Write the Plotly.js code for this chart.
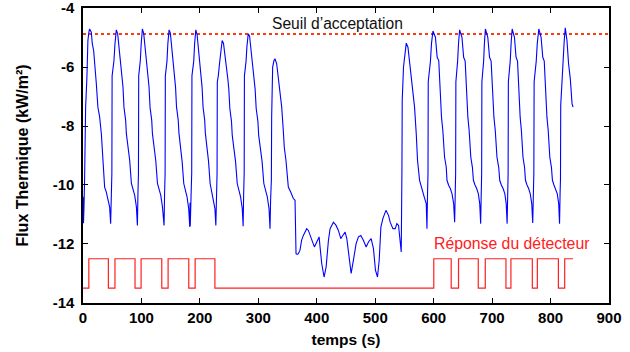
<!DOCTYPE html>
<html>
<head>
<meta charset="utf-8">
<script src="https://cdn.plot.ly/plotly-3.0.1.min.js"></script>
<style>html,body{margin:0;padding:0;background:#fff;}#chart{width:630px;height:352px;}</style>
</head>
<body>
<div id="chart"></div>
<script>
// Thermal flux signal (time in s, flux in kW/m²)
const flux_t = [
 0, 0.8, 1.5, 2.7, 4.5, 6.7, 8.4, 10.1, 11.3, 14.2, 15.9, 18.2, 19.9, 22.8, 25.5, 28.5, 31.4, 34.1, 37, 39.9, 42.7, 45.6, 47.3,
 48.3, 49.4, 49.8, 51.3, 53, 54.7, 55.9, 57, 59.3, 61, 63.9, 66.7, 68.4, 70.1, 73, 74.2, 77, 79.9, 82.8, 85.5, 88.5, 91.4, 93.1,
 94, 94.9, 95.3, 96.6, 98.1, 99.6, 100.6, 101.6, 103.9, 105.6, 108.5, 111.3, 113, 114.7, 117.6, 118.8, 121.6, 124.5, 127.4, 130.1, 133.1, 136, 138.7,
 139.6, 140.5, 140.9, 142.2, 143.7, 145.2, 146.2, 147.3, 149.5, 151.2, 154, 156.8, 158.4, 160, 162.9, 164.2, 166.8, 169.6, 172.4, 175, 178, 180.8, 182.7, 183.1, 183.5,
 185, 186, 186.4, 187.8, 189.5, 191, 192, 193, 195.2, 196.8, 199.5, 202.2, 203.8, 205.4, 208.2, 209.4, 212, 214.8, 217.5, 220, 222.9, 225.7, 227.3,
 228.3, 229.4, 229.8, 231.5, 233.5, 235.3, 236.8, 238.1, 240.4, 242.1, 245, 247.8, 249.5, 251.2, 254.1, 255.3, 258.1, 261, 263.9, 266.6, 269.6, 272.5, 274,
 274.9, 275.8, 276.2, 277.5, 279, 280.5, 281.6, 282.7, 285, 286.8, 289.8, 292.7, 294.5, 296.3, 299.3, 300.5, 303.4, 306.4, 309.4, 312.2, 315.3, 318.3, 320,
 321, 322.3, 322.8, 324.5, 326.8, 328.5, 331.4, 334.1, 337.1, 340, 342.7, 344.4, 347.3, 349.5, 351.3, 355.4, 359.9, 362.8, 364.5,
 366.5, 368.5, 371.3, 374, 377, 382.8, 385.6, 391.4, 395.9, 400, 404, 405.6, 408.5, 412.5, 416, 419.9, 422.8, 428.5, 433, 437, 441.1, 444.5, 448.5, 451.4,
 455.9, 458.8, 462.7, 467.3, 471.3, 475.4, 479.9, 484.5, 488.4, 493, 497, 500.4, 503.9, 506.8, 509.7, 513.1, 518.3, 522.7, 525.6, 530.3, 534.2, 537.1, 539.9, 542.8, 544.5,
 545.7, 546.2, 548.4, 551.3, 553.1, 556, 559.9, 563.9, 567.3, 570.2, 572.4, 575.9, 580, 583.9, 587.3, 588.5,
 589.5, 590.3, 590.7, 592.5, 594.5, 596.3, 597.5, 598.8, 603, 606, 608.7, 610.5, 613.4, 615.7, 618.6, 621.5, 622.8, 625.6, 628.5, 631.4, 634.2, 635.9,
 636.8, 637.6, 638, 639.5, 641, 642.5, 643.5, 644.4, 648.4, 651.3, 653.9, 655.7, 658.5, 660.7, 663.5, 666.3, 668, 670.7, 673.6, 676.5, 678.8, 680.4,
 681.3, 682.1, 682.5, 684, 685.5, 686.8, 687.7, 688.5, 692.6, 695.6, 698.3, 700.2, 703.1, 705.4, 708.3, 711.3, 713, 715.8, 718.8, 721.8, 724.1, 725.7,
 726.6, 727.4, 727.8, 729.4, 731, 732.5, 733.4, 734.3, 738.2, 741, 743.5, 745.2, 748, 750.1, 752.8, 755.5, 757.1, 759.7, 762.5, 765.3, 767.8, 769.5,
 770.5, 771.4, 771.9, 773.7, 775.5, 777.3, 778.6, 779.9, 783.8, 786.7, 789.2, 791, 793.8, 796, 798.7, 801.5, 803.2, 805.8, 808.6, 811.5, 813.9, 815.4,
 816.3, 817, 817.4, 818.8, 821, 823.4, 825.2, 828.1, 830.8, 832.6, 833.8, 836.8, 838.5
];
const flux_v = [
 -10.4, -11.3, -10.9, -9.84, -7.36, -6.34, -5.1, -4.82, -4.71, -4.82, -5.21, -5.44, -6.0, -6.57, -7.36, -7.7, -8.26, -9.17, -10.07, -10.24, -10.52, -10.75, -11.31,
 -10.3, -9.6, -6.3, -6.12, -5.78, -5.21, -4.99, -4.74, -4.87, -5.21, -5.67, -6.34, -6.68, -7.36, -7.81, -8.26, -8.72, -9.17, -9.95, -10.18, -10.35, -10.75, -11.37,
 -10.3, -9.6, -6.3, -6.12, -5.78, -5.21, -4.99, -4.71, -4.87, -5.21, -5.67, -6.34, -6.68, -7.36, -7.81, -8.26, -8.72, -9.17, -9.95, -10.18, -10.35, -10.75, -11.37,
 -10.3, -9.6, -6.3, -6.1, -5.8, -5.2, -5.0, -4.74, -4.85, -5.2, -5.7, -6.35, -6.7, -7.35, -7.8, -8.25, -8.7, -9.2, -9.95, -10.2, -10.4, -10.8, -11.42, -10.6, -11.4,
 -10.3, -9.6, -6.3, -6.1, -5.8, -5.2, -5.0, -4.74, -4.9, -5.2, -5.7, -6.35, -6.7, -7.35, -7.8, -8.25, -8.7, -9.2, -9.95, -10.2, -10.4, -10.8, -11.37,
 -10.3, -9.6, -6.5, -6.3, -5.9, -5.5, -5.4, -5.1, -5.2, -5.45, -5.85, -6.4, -6.75, -7.4, -7.85, -8.3, -8.75, -9.2, -9.95, -10.2, -10.4, -10.8, -11.4,
 -10.3, -9.6, -6.3, -6.1, -5.8, -5.3, -5.05, -4.87, -4.95, -5.3, -5.75, -6.4, -6.75, -7.4, -7.85, -8.3, -8.75, -9.2, -9.95, -10.2, -10.4, -10.8, -11.48,
 -10.5, -9.84, -7.7, -6.0, -5.78, -5.72, -5.89, -6.34, -7.02, -7.36, -8.15, -8.72, -9.17, -9.73, -10.07, -10.24, -10.46, -10.52, -12.33,
 -12.35, -12.33, -12.21, -11.88, -11.71, -11.48, -11.54, -11.82, -12.1, -11.93, -11.76, -12.1, -12.67, -13.12, -12.78, -11.88, -11.48, -11.26, -11.37, -11.54, -11.82, -11.71, -11.6, -11.82,
 -12.44, -13.0, -12.55, -11.99, -11.76, -11.71, -11.88, -12.1, -11.93, -11.82, -12.16, -12.89, -13.12, -12.55, -11.43, -11.14, -10.86, -11.03, -11.26, -11.48, -11.48, -11.31, -11.37, -11.82, -12.27,
 -9.5, -7.13, -6.0, -5.33, -5.19, -5.33, -6.0, -6.68, -7.36, -8.26, -9.17, -9.84, -10.18, -10.41, -10.63, -11.48,
 -10.3, -9.6, -6.5, -6.2, -5.8, -5.2, -4.95, -4.78, -4.99, -5.67, -5.78, -6.68, -7.7, -8.15, -9.05, -9.39, -9.84, -10.01, -10.12, -10.3, -10.63, -11.26,
 -10.3, -9.6, -6.5, -6.2, -5.8, -5.2, -4.95, -4.74, -4.99, -5.67, -5.8, -6.68, -7.7, -8.15, -9.05, -9.4, -9.84, -10.0, -10.12, -10.3, -10.63, -11.31,
 -10.3, -9.6, -6.5, -6.2, -5.8, -5.2, -4.95, -4.71, -4.99, -5.67, -5.8, -6.68, -7.7, -8.15, -9.05, -9.4, -9.84, -10.0, -10.12, -10.3, -10.63, -11.31,
 -10.3, -9.6, -6.5, -6.2, -5.8, -5.2, -4.95, -4.71, -4.99, -5.67, -5.8, -6.68, -7.7, -8.15, -9.05, -9.4, -9.84, -10.0, -10.12, -10.3, -10.63, -11.29,
 -10.3, -9.6, -6.5, -6.2, -5.8, -5.2, -4.95, -4.71, -4.99, -5.67, -5.8, -6.68, -7.7, -8.15, -9.05, -9.4, -9.84, -10.0, -10.12, -10.3, -10.63, -11.31,
 -10.3, -9.8, -7.3, -6.68, -6.0, -5.1, -4.67, -5.1, -5.89, -6.12, -6.4, -7.25, -7.36
];

// Detector response (step signal)
const det_t = [0, 10, 43.4, 54.7, 89, 99.4, 134.8, 145.6, 181, 191.9, 225.7, 600.2, 630, 642.5, 676.3, 688.3, 723.7, 732.2, 768.8, 777.4, 813.4, 824.2, 838.5];
const det_v = [-13.5, -12.5, -13.5, -12.5, -13.5, -12.5, -13.5, -12.5, -13.5, -12.5, -13.5, -12.5, -13.5, -12.5, -13.5, -12.5, -13.5, -12.5, -13.5, -12.5, -13.5, -12.5, -12.5];

// Acceptance threshold
const seuil_t = [0, 900];
const seuil_v = [-4.88, -4.88];

const xTicks = [0, 100, 200, 300, 400, 500, 600, 700, 800, 900];
const yTicks = [-14, -12, -10, -8, -6, -4];

const labelSeuil = "Seuil d\u2019acceptation";
const labelDet = "Réponse du détecteur";
const xTitle = "temps (s)";
const yTitle = "Flux Thermique (kW/m²)";

const FONT = "Liberation Sans, Arial, sans-serif";

const traces = [
  {x: seuil_t, y: seuil_v, mode: 'lines', line: {color: '#ff3a10', width: 2.2, dash: 'dot'}, hoverinfo: 'skip'},
  {x: det_t, y: det_v, mode: 'lines', line: {color: '#ff2020', width: 1.2, shape: 'hv'}},
  {x: flux_t, y: flux_v, mode: 'lines', line: {color: '#0000ff', width: 1.1}}
];

const layout = {
  width: 630, height: 352,
  margin: {l: 83, r: 21, t: 8, b: 49},
  paper_bgcolor: '#fff', plot_bgcolor: '#fff',
  showlegend: false,
  font: {family: FONT, size: 15, color: '#000'},
  xaxis: {
    range: [0, 900.001], tickvals: xTicks, ticktext: xTicks.map(String),
    ticks: 'inside', ticklen: 5, tickwidth: 1, tickcolor: '#000',
    showline: true, linecolor: '#000', linewidth: 1.6, mirror: 'ticks',
    showgrid: false, zeroline: false, ticklabeloverflow: 'allow',
    tickfont: {family: FONT, size: 15, color: '#000', weight: 'bold'},
    title: {text: xTitle, font: {family: FONT, size: 15.5, color: '#000', weight: 'bold'}, standoff: 9}
  },
  yaxis: {
    range: [-14.001, -3.999], tickvals: yTicks, ticktext: yTicks.map(String),
    ticks: 'inside', ticklen: 5, tickwidth: 1, tickcolor: '#000',
    showline: true, linecolor: '#000', linewidth: 1.6, mirror: 'ticks',
    showgrid: false, zeroline: false, ticklabelstandoff: 4, ticklabeloverflow: 'allow',
    tickfont: {family: FONT, size: 15, color: '#000', weight: 'bold'},
    title: {text: yTitle, font: {family: FONT, size: 16, color: '#000', weight: 'bold'}, standoff: 20}
  },
  annotations: [
    {x: 436, y: -4.52, xref: 'x', yref: 'y', text: labelSeuil, showarrow: false,
     font: {family: FONT, size: 15.6, color: '#111'}, xanchor: 'center', yanchor: 'middle'},
    {x: 597, y: -11.98, xref: 'x', yref: 'y', text: labelDet, showarrow: false,
     font: {family: FONT, size: 15.8, color: '#ff2020'}, xanchor: 'left', yanchor: 'middle'}
  ]
};

Plotly.newPlot('chart', traces, layout, {staticPlot: true, displayModeBar: false});
</script>
</body>
</html>
